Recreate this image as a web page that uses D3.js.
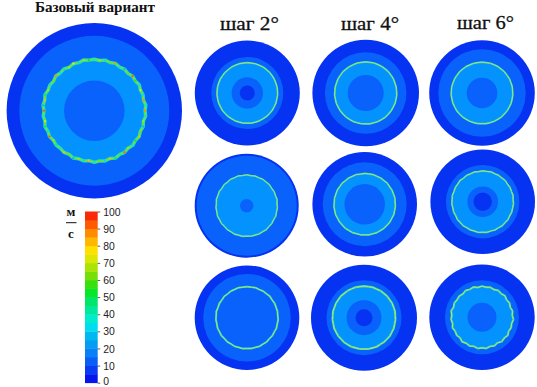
<!DOCTYPE html>
<html>
<head>
<meta charset="utf-8">
<script src="https://cdn.jsdelivr.net/npm/d3@7"></script>
<style>html,body{margin:0;padding:0;background:#fff}svg{display:block}</style>
</head>
<body>
<svg id="chart" width="537" height="387"></svg>
<script>
// ---------- data (zone radii are % of the disc radius) ----------
const panelNames = ["base","s2a","s4a","s6a","s2b","s4b","s6b","s2c","s4c","s6c"];
const zone2Radii = [85.5,68.6,76.5,82.8,96.2,80.3,70.2,83.7,70.8,70.2];
const ringRadii  = [58.2,57.7,58.2,58.3,59.0,58.7,58.7,59.3,59.4,58.3];
const diskRadii  = [34.5,29.9,33.8,29.0,12.9,38.8,29.3,57.5,33.0,27.5];
const coreRadii  = [0,14.3,0,0,0,0,17.6,0,16.0,0];
const headTitles = ["Базовый вариант","шаг 2°","шаг 4°","шаг 6°"];
const legendTicks = [0,10,20,30,40,50,60,70,80,90,100];
const bandEdges = [0,5,10,15,20,25,30,35,40,45,50,55,60,65,70,75,80,85,90,95,100];
const bandColors = ["#0614f0","#0a3af2","#0a5ef6","#0a80f8","#069cf4","#00b8f0","#00dcf0","#00eccc","#00e89c","#00e66a",
                    "#06e62a","#38e010","#78de08","#aae406","#dce804","#ffe000","#ffb800","#ff8c00","#ff5a00","#f82a08"];
const baseRingSpeeds = [35,68,30,60,88,33,28,62,92,56,30,72,34,88,38,86,32,66,28,64,80,52,30,68,90,36,46,84,30,62,
                        37,84,32,68,28,63,82,34,44,66,92,30,46,72,36,90,28,84,48,68,31,61,86,33,42,67,78,30,66,51];
const stepRingSpeeds = [58,64,52,68,60,50,66,70,54,62,50,66,58,68,52,64,48,66,72,56,60,50,68,62,48,66,56,70,52,64,
                        50,68,58,54,66,62,50,68,56,72,48,60,66,52,64,58];
const ringWobble = [0.5,-0.7,0.9,-0.4,1.0,-0.8,0.4,-1.0,0.7,-0.5,1.1,-0.6,0.3,-0.9,1.0,-0.4,0.8,-1.1,0.5,-0.7,
                    0.9,-0.3,1.0,-0.8,0.6,-0.5,1.1,-0.9,0.4,-0.7,0.8,-1.0,0.3,-0.6,1.0,-0.8,0.6,-0.4];

// ---------- layout ----------
const layout = {
  base:{cx:94.3,cy:110.7,R:87.7,w:3.1,amp:.8},
  s2a:{cx:247.3,cy:93,R:52.5,w:1.4,amp:.12},
  s4a:{cx:365.7,cy:93,R:53.3,w:1.4,amp:.12},
  s6a:{cx:482,cy:93,R:52.8,w:1.4,amp:.12},
  s2b:{cx:246.7,cy:205.7,R:52,w:1.3,amp:.3},
  s4b:{cx:364.7,cy:204.3,R:52.3,w:1.4,amp:.2},
  s6b:{cx:482.7,cy:201.7,R:52.3,w:1.4,amp:.3},
  s2c:{cx:247,cy:317.7,R:52.3,w:1.5,amp:.3},
  s4c:{cx:364,cy:317.7,R:53,w:1.8,amp:.2},
  s6c:{cx:482,cy:317.3,R:52.7,w:1.7,amp:.75}
};
const titlePos = [{x:35,y:12,w:120,fs:14.5},{x:220,y:30,w:59,fs:19},{x:341,y:30,w:58,fs:19},{x:457,y:29,w:57,fs:19}];

// ---------- scales ----------
const color = d3.scaleThreshold().domain(bandEdges.slice(1,-1)).range(bandColors);
const svg = d3.select("#chart");

const zoneColor = {outer:"#0632f2",z2:"#0a62fc",z3:"#0492ff",disk:"#0a62fc",core:"#0632f2"};

const panels = panelNames.map((name,i)=>({name,i,z2:zone2Radii[i],ring:ringRadii[i],disk:diskRadii[i],core:coreRadii[i],...layout[name]}));
const g = svg.selectAll("g.panel").data(panels).join("g").attr("class","panel")
  .attr("transform",d=>`translate(${d.cx},${d.cy})`);

function circ(sel,rFn,fill){
  sel.append("circle").attr("r",d=>d3.scaleLinear().domain([0,100]).range([0,d.R])(rFn(d))).attr("fill",fill);
}
circ(g,d=>100,zoneColor.outer);
circ(g,d=>d.z2,zoneColor.z2);
circ(g,d=>d.ring,zoneColor.z3);
circ(g,d=>d.disk,zoneColor.disk);
circ(g.filter(d=>d.core>0),d=>d.core,zoneColor.core);

// wavy speed ring: a continuous band plus one small mark per sample, coloured by speed
g.each(function(d){
  const isBase = d.name==="base";
  const speeds = isBase ? baseRingSpeeds : stepRingSpeeds;
  const off = d.i*4;
  const n = speeds.length;
  const rS = d3.scaleLinear().domain([0,100]).range([0,d.R]);
  const ang = d3.scaleLinear().domain([0,n]).range([0,2*Math.PI]);
  const wob = k => ringWobble[(k+off)%ringWobble.length]*d.amp;
  const rad = k => rS(d.ring)+wob(k);
  const line = d3.lineRadial().angle(k=>ang(k)).radius(rad).curve(d3.curveLinearClosed);
  const sel = d3.select(this);
  const pts = d3.range(n);
  sel.append("path").attr("fill","none").attr("stroke",isBase?"#20dcc0":"#3cd8b4").attr("stroke-width",d.w+.3).attr("stroke-linejoin","round").attr("d",line(pts));
  sel.append("path").attr("fill","none").attr("stroke",isBase?"#74e038":"#c4e86a").attr("stroke-width",d.w*.5).attr("stroke-linejoin","round").attr("d",line(pts));
  sel.selectAll("circle.spot").data(pts).join("circle").attr("class","spot")
    .attr("cx",k=>rad(k)*Math.sin(ang(k))).attr("cy",k=>-rad(k)*Math.cos(ang(k)))
    .attr("r",isBase?1.15:d.w*.32)
    .attr("fill",k=>color(speeds[(k+off)%n]))
    .attr("opacity",isBase?.95:.5);
});

// ---------- titles ----------
svg.selectAll("text.title").data(headTitles).join("text").attr("class","title")
  .attr("x",(d,i)=>titlePos[i].x).attr("y",(d,i)=>titlePos[i].y)
  .attr("font-family","'Liberation Serif','DejaVu Serif',serif")
  .attr("font-weight",(d,i)=>i===0?"bold":"normal")
  .attr("font-size",(d,i)=>titlePos[i].fs)
  .attr("textLength",(d,i)=>titlePos[i].w).attr("lengthAdjust","spacingAndGlyphs")
  .attr("stroke","#111").attr("stroke-width",(d,i)=>i===0?0:.3)
  .attr("fill","#111").text(d=>d);

// ---------- legend ----------
const yL = d3.scaleLinear().domain([0,100]).range([382.7,211.5]);
const xBar = 85, wBar = 12.7;
svg.selectAll("rect.band").data(bandColors).join("rect").attr("class","band")
  .attr("x",xBar).attr("width",wBar)
  .attr("y",(d,i)=>yL(bandEdges[i+1])).attr("height",(d,i)=>yL(bandEdges[i])-yL(bandEdges[i+1])+.4)
  .attr("fill",d=>d);
const axis = d3.axisRight(yL).tickValues(legendTicks).tickSize(2.5).tickPadding(3).tickFormat(d3.format("d"));
const ax = svg.append("g").attr("transform",`translate(${xBar+wBar},0)`).call(axis);
ax.select(".domain").remove();
ax.selectAll("line").attr("stroke","#333").attr("stroke-width",.8);
ax.selectAll("text").attr("font-family","'Liberation Sans',Arial,sans-serif").attr("font-size",10.4)
  .attr("dy",d=>d===0?"0.2em":"0.34em").attr("fill","#222");

const unit = svg.append("g").attr("font-family","'Liberation Serif','DejaVu Serif',serif").attr("font-weight","bold")
  .attr("font-size",13).attr("fill","#111").attr("text-anchor","middle");
unit.append("text").attr("x",71).attr("y",216).text("м");
unit.append("line").attr("x1",66).attr("x2",76.5).attr("y1",222.7).attr("y2",222.7).attr("stroke","#111").attr("stroke-width",1);
unit.append("text").attr("x",71).attr("y",237.5).text("с");
</script>
</body>
</html>
